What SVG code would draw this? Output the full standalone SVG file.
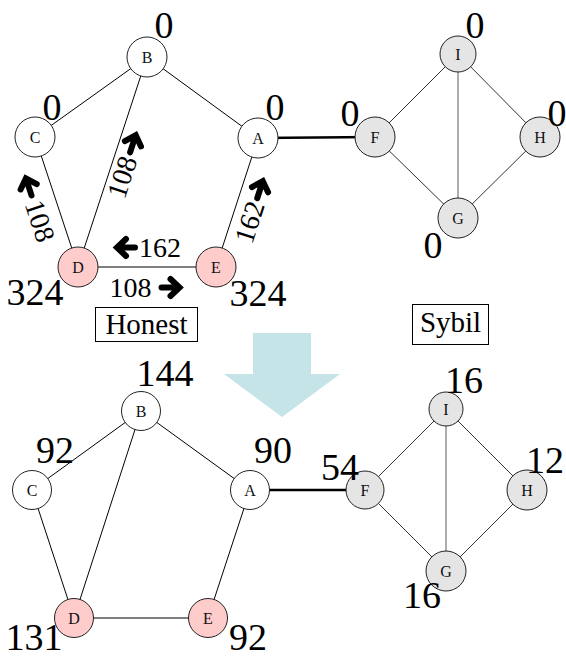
<svg xmlns="http://www.w3.org/2000/svg" xmlns:xlink="http://www.w3.org/1999/xlink" width="566" height="659" viewBox="0 0 566 659">
<style>
.e{stroke:#000;stroke-width:1;fill:none}
.s{stroke:#333;stroke-width:1;fill:none}
.g{stroke:#808080;stroke-width:1.3;fill:none}
.t{stroke:#000;stroke-width:2.4;fill:none}
.nh{fill:#fff;stroke:#222;stroke-width:1}
.nd{fill:#ffcccc;stroke:#222;stroke-width:1}
.ns{fill:#e5e5e5;stroke:#222;stroke-width:1}
.nl{font-size:16px;text-anchor:middle;fill:#111}
.big{font-size:38px;text-anchor:middle;fill:#000}
.el{font-size:28px;text-anchor:middle;fill:#000}
.bx{font-size:29px;text-anchor:middle;fill:#000}
</style>
<defs>
<g id="ar"><path d="M-10,0H6M-1,-8.5L8,0L-1,8.5" fill="none" stroke="#000" stroke-width="6" stroke-linecap="round" stroke-linejoin="miter"/></g>
</defs>

<g font-family="Liberation Serif, Times New Roman, Tinos, DejaVu Serif, serif">
<!-- big down arrow -->
<polygon points="253,333 311,333 311,374 340,374 282,417 224,374 253,374" fill="#c4e4e7"/>

<!-- top graph connectors -->
<g id="edges-top">
<line class="e" x1="258" y1="138" x2="147" y2="57"/>
<line class="e" x1="147" y1="57" x2="35" y2="137"/>
<line class="e" x1="147" y1="57" x2="78" y2="267"/>
<line class="e" x1="35" y1="137" x2="78" y2="267"/>
<line class="e" x1="78" y1="267" x2="216" y2="267"/>
<line class="e" x1="216" y1="267" x2="258" y2="138"/>
<line class="t" x1="258" y1="138" x2="375" y2="137"/>
<line class="s" x1="375" y1="137" x2="458" y2="54"/>
<line class="s" x1="458" y1="54" x2="540" y2="137"/>
<line class="s" x1="540" y1="137" x2="458" y2="218"/>
<line class="s" x1="458" y1="218" x2="375" y2="137"/>
<line class="g" x1="458" y1="54" x2="458" y2="218"/>
</g>

<!-- top edge labels -->
<g id="flow-labels">
<g transform="translate(40,221) rotate(71.7)"><text class="el" x="0" y="9.5">108</text><use xlink:href="#ar" transform="translate(-37,0) scale(-1,1)"/></g>
<g transform="translate(122,177) rotate(-71.8)"><text class="el" x="0" y="9.5">108</text><use xlink:href="#ar" transform="translate(36,0)"/></g>
<g transform="translate(249.5,222) rotate(-72)"><text class="el" x="0" y="9.5">162</text><use xlink:href="#ar" transform="translate(35,0)"/></g>
<g transform="translate(160,247.5)"><text class="el" x="0" y="9.5">162</text><use xlink:href="#ar" transform="translate(-35,0) scale(-1,1)"/></g>
<g transform="translate(130.5,287.5)"><text class="el" x="0" y="9.5">108</text><use xlink:href="#ar" transform="translate(41,0)"/></g>
</g>

<!-- top nodes -->
<g id="tA"><circle class="nh" cx="258" cy="138" r="20"/><text class="nl" x="258" y="143.5">A</text></g>
<g id="tB"><circle class="nh" cx="147" cy="57" r="20"/><text class="nl" x="147" y="62.5">B</text></g>
<g id="tC"><circle class="nh" cx="35" cy="137" r="20"/><text class="nl" x="35" y="142.5">C</text></g>
<g id="tD"><circle class="nd" cx="78" cy="267" r="20"/><text class="nl" x="78" y="272.5">D</text></g>
<g id="tE"><circle class="nd" cx="216" cy="267" r="20"/><text class="nl" x="216" y="272.5">E</text></g>
<g id="tF"><circle class="ns" cx="375" cy="137" r="20"/><text class="nl" x="375" y="142.5">F</text></g>
<g id="tG"><circle class="ns" cx="458" cy="218" r="20"/><text class="nl" x="458" y="223.5">G</text></g>
<g id="tH"><circle class="ns" cx="540" cy="137" r="20"/><text class="nl" x="540" y="142.5">H</text></g>
<g id="tI"><circle class="ns" cx="458" cy="54" r="18"/><text class="nl" x="458" y="59.5">I</text></g>

<!-- top values -->
<g id="top-values">
<text class="big" x="164" y="38">0</text>
<text class="big" x="52" y="120">0</text>
<text class="big" x="275" y="120">0</text>
<text class="big" x="35" y="305">324</text>
<text class="big" x="258" y="306">324</text>
<text class="big" x="350" y="126">0</text>
<text class="big" x="475" y="38">0</text>
<text class="big" x="557" y="126">0</text>
<text class="big" x="433" y="258">0</text>
</g>

<!-- boxes -->
<g id="honest"><rect x="95.5" y="307.5" width="102" height="34" fill="#fff" stroke="#000" stroke-width="1"/><text class="bx" x="146.5" y="334">Honest</text></g>
<g id="sybil"><rect x="412.5" y="304.5" width="76" height="40" fill="#fff" stroke="#000" stroke-width="1"/><text class="bx" x="450.5" y="332">Sybil</text></g>

<!-- bottom graph connectors -->
<g id="edges-bottom">
<line class="e" x1="250" y1="490" x2="141" y2="411"/>
<line class="e" x1="141" y1="411" x2="32" y2="490"/>
<line class="e" x1="141" y1="411" x2="74" y2="618"/>
<line class="e" x1="32" y1="490" x2="74" y2="618"/>
<line class="e" x1="74" y1="618" x2="208" y2="618"/>
<line class="e" x1="208" y1="618" x2="250" y2="490"/>
<line class="t" x1="250" y1="490" x2="365" y2="490"/>
<line class="s" x1="365" y1="490" x2="446" y2="409"/>
<line class="s" x1="446" y1="409" x2="527" y2="490"/>
<line class="s" x1="527" y1="490" x2="446" y2="571"/>
<line class="s" x1="446" y1="571" x2="365" y2="490"/>
<line class="g" x1="446" y1="409" x2="446" y2="571"/>
</g>

<!-- bottom nodes -->
<g id="bA"><circle class="nh" cx="250" cy="490" r="19.5"/><text class="nl" x="250" y="495.5">A</text></g>
<g id="bB"><circle class="nh" cx="141" cy="411" r="19.5"/><text class="nl" x="141" y="416.5">B</text></g>
<g id="bC"><circle class="nh" cx="32" cy="490" r="19.5"/><text class="nl" x="32" y="495.5">C</text></g>
<g id="bD"><circle class="nd" cx="74" cy="618" r="19.5"/><text class="nl" x="74" y="623.5">D</text></g>
<g id="bE"><circle class="nd" cx="208" cy="618" r="19.5"/><text class="nl" x="208" y="623.5">E</text></g>
<g id="bF"><circle class="ns" cx="365" cy="490" r="19"/><text class="nl" x="365" y="495.5">F</text></g>
<g id="bG"><circle class="ns" cx="446" cy="571" r="20"/><text class="nl" x="446" y="576.5">G</text></g>
<g id="bH"><circle class="ns" cx="527" cy="490" r="20"/><text class="nl" x="527" y="495.5">H</text></g>
<g id="bI"><circle class="ns" cx="446" cy="409" r="17"/><text class="nl" x="446" y="414.5">I</text></g>

<!-- bottom values -->
<g id="bottom-values">
<text class="big" x="165" y="386">144</text>
<text class="big" x="55" y="463">92</text>
<text class="big" x="273" y="463">90</text>
<text class="big" x="34" y="650">131</text>
<text class="big" x="248" y="650">92</text>
<text class="big" x="340" y="480">54</text>
<text class="big" x="464" y="393">16</text>
<text class="big" x="545" y="473">12</text>
<text class="big" x="422" y="608">16</text>
</g>
</g>
</svg>
